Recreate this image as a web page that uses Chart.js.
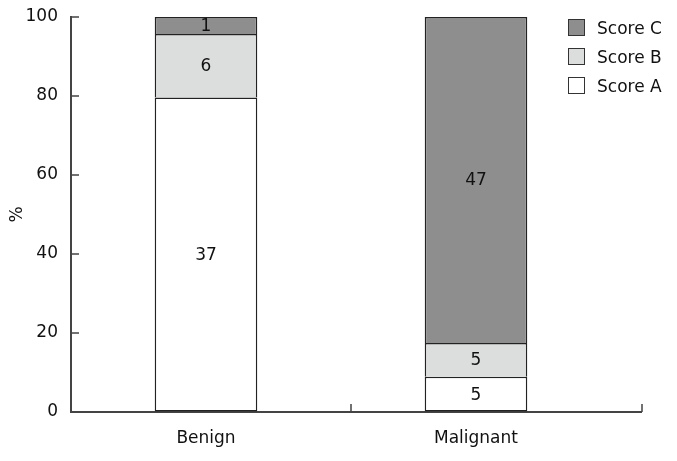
<!DOCTYPE html>
<html>
<head>
<meta charset="utf-8">
<script src="https://cdn.jsdelivr.net/npm/chart.js@4.4.1/dist/chart.umd.min.js"></script>
<style>
  body { margin: 0; background: #fff; }
  #wrap { position: relative; width: 677px; height: 461px; }
  #legend { position: absolute; left: 568px; top: 13px; font: 17px "DejaVu Sans", sans-serif; color: #111; }
  .item { display: flex; align-items: center; height: 29px; }
  .box { width: 15px; height: 15px; border: 1px solid #333; margin-right: 12px; }
</style>
</head>
<body>
<div id="wrap">
  <canvas id="chart" width="677" height="461"></canvas>
  <div id="legend"></div>
</div>
<script>
var groups = ['Benign', 'Malignant'];
// bar heights in percent of each group
var scoreA = [79.6, 8.9];
var scoreB = [16.1, 8.6];
var scoreC = [4.3, 82.5];
// counts written inside the segments
var countA = [37, 5];
var countB = [6, 5];
var countC = [1, 47];

var FONT = '"DejaVu Sans", sans-serif';
var AXIS = '#444';
var AXIS_TAIL = 31; // x axis line runs a little past the last category

var datasets = [
  { label: 'Score A', data: scoreA, counts: countA, backgroundColor: '#ffffff' },
  { label: 'Score B', data: scoreB, counts: countB, backgroundColor: '#dcdedd' },
  { label: 'Score C', data: scoreC, counts: countC, backgroundColor: '#8e8e8e' }
];
datasets.forEach(function (d, i) {
  d.borderColor = '#222';
  // one line per segment boundary: only the lowest segment gets a bottom edge
  d.borderWidth = { top: 1.5, left: 1.5, right: 1.5, bottom: i === 0 ? 1.5 : 0 };
  d.borderSkipped = false;
  d.barPercentage = 0.38;
  d.categoryPercentage = 1;
});

// numbers in the middle of each segment
var segLabels = {
  id: 'segLabels',
  afterDatasetsDraw: function (chart) {
    var ctx = chart.ctx;
    ctx.save();
    ctx.font = '17px ' + FONT;
    ctx.fillStyle = '#111';
    ctx.textAlign = 'center';
    ctx.textBaseline = 'middle';
    chart.data.datasets.forEach(function (ds, i) {
      chart.getDatasetMeta(i).data.forEach(function (bar, j) {
        ctx.fillText(ds.counts[j], bar.x, (bar.y + bar.base) / 2 + 1);
      });
    });
    ctx.restore();
  }
};

// tick marks pointing into the plot, plus the tail of the x axis
var innerTicks = {
  id: 'innerTicks',
  afterDatasetsDraw: function (chart) {
    var ctx = chart.ctx, x = chart.scales.x, y = chart.scales.y;
    ctx.save();
    ctx.strokeStyle = AXIS;
    ctx.lineWidth = 2;
    ctx.beginPath();
    ctx.moveTo(x.right, x.top);
    ctx.lineTo(x.right + AXIS_TAIL, x.top);
    ctx.stroke();
    ctx.lineWidth = 1.5;
    ctx.beginPath();
    y.ticks.forEach(function (t) {
      var py = y.getPixelForValue(t.value);
      ctx.moveTo(y.right, py);
      ctx.lineTo(y.right + 8, py);
    });
    var edges = [x.left, x.right + AXIS_TAIL];
    for (var i = 0; i < groups.length - 1; i++) {
      edges.push((x.getPixelForValue(i) + x.getPixelForValue(i + 1)) / 2 + 10);
    }
    edges.forEach(function (px) {
      ctx.moveTo(px, x.top);
      ctx.lineTo(px, x.top - 8);
    });
    ctx.stroke();
    ctx.restore();
  }
};

new Chart('chart', {
  type: 'bar',
  data: { labels: groups, datasets: datasets },
  options: {
    responsive: false,
    animation: false,
    layout: { padding: { top: 17, right: 35 + AXIS_TAIL, left: 0, bottom: 0 } },
    plugins: { legend: { display: false }, tooltip: { enabled: false } },
    scales: {
      x: {
        stacked: true,
        grid: { display: true, drawOnChartArea: false, drawTicks: false, offset: true },
        border: { display: true, color: AXIS, width: 2 },
        ticks: { color: '#111', font: { family: FONT, size: 17 }, padding: 16 },
        afterFit: function (s) { s.height = 49; s.paddingLeft = 0; s.paddingRight = 0; }
      },
      y: {
        stacked: true,
        min: 0,
        max: 100,
        grid: { display: true, drawOnChartArea: false, drawTicks: false },
        border: { display: true, color: AXIS, width: 2 },
        ticks: { stepSize: 20, color: '#111', font: { family: FONT, size: 17 }, padding: 13 },
        title: { display: true, text: '%', color: '#111', font: { family: FONT, size: 17 }, padding: { top: 7, bottom: 0 } },
        afterFit: function (s) { s.width = 71; s.paddingTop = 0; s.paddingBottom = 0; }
      }
    }
  },
  plugins: [segLabels, innerTicks]
});

// legend drawn as html over the plot, C on top
var legend = document.getElementById('legend');
datasets.slice().reverse().forEach(function (d) {
  var row = document.createElement('div');
  row.className = 'item';
  var box = document.createElement('span');
  box.className = 'box';
  box.style.background = d.backgroundColor;
  row.appendChild(box);
  row.appendChild(document.createTextNode(d.label));
  legend.appendChild(row);
});
</script>
</body>
</html>
